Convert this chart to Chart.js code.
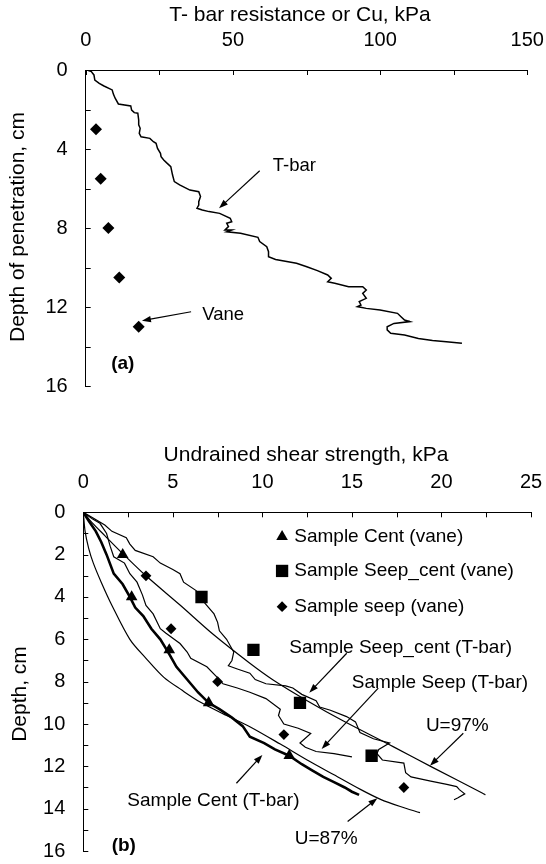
<!DOCTYPE html>
<html>
<head>
<meta charset="utf-8">
<script src="https://cdn.jsdelivr.net/npm/chart.js@4.4.0/dist/chart.umd.min.js"></script>
<style>
  body { margin: 0; background: #fff; }
  #wrap { position: relative; width: 546px; height: 864px; }
  canvas { position: absolute; left: 0; }
</style>
</head>
<body>
<div id="wrap">
  <canvas id="chartA" width="546" height="440" style="top:0"></canvas>
  <canvas id="chartB" width="546" height="424" style="top:440px"></canvas>
</div>
<script>
// --- (a) T-bar profile + vane ---
const tBarKpa = [0.5,1.9,2.8,3.1,4.6,6.2,9.0,9.4,10.0,11.1,15.3,15.6,16.5,17.7,18.0,18.0,18.5,18.2,18.8,21.8,
  23.0,23.9,24.4,25.4,25.6,26.5,27.7,28.9,29.5,30.1,31.9,35.4,38.4,39.0,38.4,38.4,37.8,39.6,41.9,45.5,
  49.1,49.6,47.9,48.5,47.3,49.6,47.9,52.6,58.5,59.1,61.5,62.1,62.1,64.5,71.6,75.1,78.7,82.2,83.4,82.2,
  84.6,89.3,94.1,95.3,94.1,95.3,92.9,93.5,92.3,95.3,100.0,105.9,107.1,108.3,110.1,104.7,102.4,102.4,103.6,108.3,
  113.0,117.8,122.5,127.8];
const tBarDepth = [0,0.08,0.25,0.51,0.68,0.81,1.01,1.22,1.43,1.72,1.82,2.03,2.16,2.19,2.53,2.78,2.95,3.21,3.38,3.46,
  3.63,3.71,3.97,4.22,4.39,4.56,4.73,4.89,5.32,5.65,5.82,6.08,6.16,6.41,6.67,6.84,7.00,7.09,7.17,7.26,
  7.51,7.68,7.76,7.93,8.10,8.10,8.19,8.27,8.47,8.69,8.95,9.20,9.45,9.59,9.79,9.96,10.16,10.38,10.55,10.72,
  10.80,10.97,10.97,11.14,11.31,11.56,11.73,11.90,11.98,12.07,12.15,12.32,12.49,12.66,12.74,12.83,13.0,13.16,13.33,13.42,
  13.59,13.70,13.76,13.84];
const vaneKpa = [3.5, 5.1, 7.7, 11.4, 18.0];
const vaneDepth = [3, 5.5, 8, 10.5, 13];

// --- (b) undrained shear strength, [kPa, cm] ---
const centTbar = [[0,0],[0.3,0.4],[0.7,0.9],[1.0,1.4],[1.3,2.0],[1.7,2.9],[2.2,3.4],[2.6,4.0],[2.9,4.5],[3.35,4.9],
  [3.8,5.5],[4.3,6.0],[4.8,6.7],[5.2,7.3],[5.8,7.9],[6.4,8.5],[7.0,9.0],[7.6,9.3],[8.3,9.7],[8.9,10.1],[9.3,10.6],
  [10.1,10.9],[10.7,11.2],[11.5,11.5],[12.2,11.9],[12.8,12.2],[13.4,12.5],[14.0,12.75],[14.6,13.0],[15.0,13.2],[15.4,13.35]];
const seepTbar = [[0,0],[0.5,0.3],[0.93,0.52],[1.3,1.0],[1.5,1.6],[1.7,2.1],[2.3,2.4],[2.6,2.9],[3.0,3.3],[3.3,3.9],
  [3.5,4.4],[3.9,4.8],[4.3,5.5],[4.6,5.7],[5.4,6.2],[5.8,6.6],[6.0,6.9],[6.9,7.3],[7.6,7.9],[7.8,8.1],[8.6,8.3],
  [9.3,8.5],[10.2,8.8],[11.0,9.3],[10.9,9.6],[11.2,10.0],[12.0,10.2],[12.7,10.45],[12.1,10.9],[12.4,11.1],[13.0,11.3],
  [14.0,11.4],[15.0,11.55]];
const seepCentTbar = [[0,0],[0.5,0.25],[1.2,0.6],[1.6,0.9],[2.4,1.2],[2.6,1.5],[2.9,1.8],[3.9,2.1],[4.3,2.4],[5.0,2.7],
  [5.4,2.9],[5.6,3.3],[6.3,3.7],[6.6,4.1],[7.0,4.5],[7.3,4.8],[7.5,5.2],[7.6,5.6],[8.0,6.0],[8.4,6.6],[8.3,7.0],
  [8.1,7.25],[8.6,7.4],[9.3,7.6],[9.6,7.9],[10.2,8.1],[11.3,8.2],[11.7,8.3],[12.2,8.6],[13.0,8.9],[13.2,9.2],
  [13.8,9.35],[14.7,9.65],[15.2,9.9],[15.45,10.4],[16.2,10.7],[17.1,10.9],[16.5,11.2],[16.4,11.4],[16.7,11.7],
  [17.9,11.85],[18.0,12.3],[18.3,12.5],[19.4,12.7],[20.3,12.85],[20.85,12.96],[21.0,13.1],[21.3,13.3],[20.9,13.5],[20.7,13.58]];
const u97 = [[0,0],[0.5,0.5],[1.2,1.1],[2.2,1.95],[3.5,3.0],[5.4,4.38],[7.3,5.8],[9.3,7.13],[10.6,7.92],[12.5,8.9],
  [14.5,9.85],[17.3,11.07],[19.5,12.05],[22.3,13.27],[22.45,13.35]];
const u87 = [[0,0],[0.1,0.9],[0.3,1.7],[0.56,2.4],[1.0,3.3],[1.6,4.4],[2.6,6.0],[3.5,6.9],[4.5,7.8],[5.5,8.4],
  [6.5,8.95],[8.0,9.6],[9.3,10.13],[11.0,10.95],[12.5,11.7],[14.0,12.4],[15.5,13.1],[16.6,13.56],[17.7,13.9],[18.8,14.19]];
const centVaneKpa = [2.2, 2.7, 4.8, 7.0, 11.5];
const centVaneDepth = [2, 4, 6.5, 9, 11.5];
const seepCentVaneKpa = [6.6, 9.5, 12.1, 16.1];
const seepCentVaneDepth = [4, 6.5, 9, 11.5];
const seepVaneKpa = [3.5, 4.9, 7.5, 11.2, 17.9];
const seepVaneDepth = [3, 5.5, 8, 10.5, 13];

const FONT = "'Liberation Sans', Arial, sans-serif";
Chart.defaults.font.family = FONT;
Chart.defaults.color = '#000';

function zip(xs, ys) { return xs.map((x, i) => ({x: x, y: ys[i]})); }
function pairs(arr) { return arr.map(p => ({x: p[0], y: p[1]})); }

function lineSet(data, width, tension) {
  return { data: data, showLine: true, borderColor: '#000', borderWidth: width,
    pointRadius: 0, tension: tension || 0, fill: false };
}
function pointSet(data, style, r) {
  return { data: data, showLine: false, pointStyle: style, pointRadius: r,
    backgroundColor: '#000', borderColor: '#000', borderWidth: 0 };
}

function drawShape(ctx, style, x, y, r) {
  ctx.beginPath();
  if (style === 'triangle') {
    ctx.moveTo(x, y - r);
    ctx.lineTo(x + r * 0.866, y + r * 0.5);
    ctx.lineTo(x - r * 0.866, y + r * 0.5);
  } else if (style === 'rect') {
    const s = r * Math.SQRT1_2;
    ctx.rect(x - s, y - s, 2 * s, 2 * s);
  } else {
    ctx.moveTo(x - r, y); ctx.lineTo(x, y - r); ctx.lineTo(x + r, y); ctx.lineTo(x, y + r);
  }
  ctx.closePath();
  ctx.fill();
}

// inward tick marks on the top and left axes
const innerTicks = {
  id: 'innerTicks',
  afterDraw(chart) {
    const ctx = chart.ctx, a = chart.chartArea, sx = chart.scales.x, sy = chart.scales.y;
    ctx.save();
    ctx.strokeStyle = '#000';
    ctx.lineWidth = 1;
    ctx.beginPath();
    sx.ticks.forEach(t => {
      const x = Math.round(sx.getPixelForValue(t.value)) + 0.5;
      ctx.moveTo(x, a.top); ctx.lineTo(x, a.top + 5);
    });
    sy.ticks.forEach(t => {
      const y = Math.round(sy.getPixelForValue(t.value)) + 0.5;
      ctx.moveTo(a.left, y); ctx.lineTo(a.left + 5, y);
    });
    ctx.stroke();
    ctx.restore();
  }
};

// texts, arrows and legend rows given in data units, drawn after the chart
const notesPlugin = {
  id: 'notes',
  afterDraw(chart, args, opts) {
    const ctx = chart.ctx, sx = chart.scales.x, sy = chart.scales.y;
    const px = v => sx.getPixelForValue(v), py = v => sy.getPixelForValue(v);
    ctx.save();
    ctx.fillStyle = '#000';
    ctx.strokeStyle = '#000';
    ctx.textBaseline = 'middle';
    (opts.texts || []).forEach(t => {
      ctx.font = (t.bold ? 'bold ' : '') + t.size + 'px ' + FONT;
      ctx.textAlign = t.align || 'left';
      ctx.fillText(t.text, px(t.x), py(t.y));
    });
    (opts.arrows || []).forEach(a => {
      const x1 = px(a[0]), y1 = py(a[1]), x2 = px(a[2]), y2 = py(a[3]);
      const ang = Math.atan2(y2 - y1, x2 - x1), L = 9, W = 3.2;
      ctx.lineWidth = 1.2;
      ctx.beginPath();
      ctx.moveTo(x1, y1);
      ctx.lineTo(x2 - Math.cos(ang) * L * 0.8, y2 - Math.sin(ang) * L * 0.8);
      ctx.stroke();
      ctx.beginPath();
      ctx.moveTo(x2, y2);
      ctx.lineTo(x2 - Math.cos(ang) * L - Math.sin(ang) * W, y2 - Math.sin(ang) * L + Math.cos(ang) * W);
      ctx.lineTo(x2 - Math.cos(ang) * L + Math.sin(ang) * W, y2 - Math.sin(ang) * L - Math.cos(ang) * W);
      ctx.closePath();
      ctx.fill();
    });
    (opts.legend || []).forEach(l => {
      drawShape(ctx, l.style, px(l.mx), py(l.y), l.r);
      ctx.font = l.size + 'px ' + FONT;
      ctx.textAlign = 'left';
      ctx.fillText(l.text, px(l.tx), py(l.y));
    });
    // axis titles placed by pixel
    (opts.titles || []).forEach(t => {
      ctx.save();
      ctx.font = t.size + 'px ' + FONT;
      ctx.textAlign = 'center';
      ctx.translate(t.px, t.py);
      if (t.vertical) ctx.rotate(-Math.PI / 2);
      ctx.fillText(t.text, 0, 0);
      ctx.restore();
    });
    ctx.restore();
  }
};

function axes(o) {
  return {
    x: {
      type: 'linear', position: 'top', min: 0, max: o.xMax,
      ticks: { stepSize: o.xStep, padding: 18, font: { size: 20 }, maxRotation: 0, autoSkip: false,
        callback: v => (Math.abs(v % o.xLabel) < 1e-6 ? v : '') },
      grid: { drawOnChartArea: false, drawTicks: false },
      border: { display: true, color: '#000', width: 1 },
      afterFit: s => { s.height = o.top; s.paddingLeft = 0; s.paddingRight = 0; }
    },
    y: {
      type: 'linear', reverse: true, min: 0, max: 16,
      ticks: { stepSize: o.yStep, padding: 18, font: { size: 20 }, autoSkip: false,
        callback: v => (v % o.yLabel === 0 ? v : '') },
      grid: { drawOnChartArea: false, drawTicks: false },
      border: { display: true, color: '#000', width: 1 },
      afterFit: s => { s.width = o.left; s.paddingTop = 0; s.paddingBottom = 0; }
    }
  };
}

const common = {
  responsive: false, animation: false, devicePixelRatio: 1, events: [],
  plugins: { legend: { display: false }, tooltip: { enabled: false } }
};

new Chart(document.getElementById('chartA'), {
  type: 'scatter',
  data: { datasets: [
    lineSet(zip(tBarKpa, tBarDepth), 1.5),
    pointSet(zip(vaneKpa, vaneDepth), 'rectRot', 6)
  ] },
  options: Object.assign({}, common, {
    layout: { padding: { left: 0, top: 0, right: 18.7, bottom: 54 } },
    scales: axes({ xMax: 150, xStep: 25, xLabel: 50, yStep: 2, yLabel: 4, top: 70, left: 85.7 }),
    plugins: Object.assign({}, common.plugins, { notes: {
      texts: [
        { text: 'T-bar', x: 70.9, y: 4.86, size: 18.5, align: 'center' },
        { text: 'Vane', x: 46.7, y: 12.4, size: 18.5, align: 'center' },
        { text: '(a)', x: 12.6, y: 14.85, size: 19, align: 'center', bold: true }
      ],
      arrows: [[59.1, 5.10, 45.3, 7.0], [35.8, 12.24, 19.1, 12.69]],
      titles: [
        { text: 'T- bar resistance or Cu, kPa', px: 300, py: 15, size: 21 },
        { text: 'Depth of penetration, cm', px: 18, py: 227, size: 21, vertical: true }
      ]
    } })
  }),
  plugins: [innerTicks, notesPlugin]
});

new Chart(document.getElementById('chartB'), {
  type: 'scatter',
  data: { datasets: [
    lineSet(pairs(u97), 1.2, 0.3),
    lineSet(pairs(u87), 1.2, 0.3),
    lineSet(pairs(seepCentTbar), 1.2),
    lineSet(pairs(seepTbar), 1.2),
    lineSet(pairs(centTbar), 2.6),
    pointSet(zip(centVaneKpa, centVaneDepth), 'triangle', 6.7),
    pointSet(zip(seepCentVaneKpa, seepCentVaneDepth), 'rect', 8.7),
    pointSet(zip(seepVaneKpa, seepVaneDepth), 'rectRot', 5.4)
  ] },
  options: Object.assign({}, common, {
    layout: { padding: { left: 0, top: 0, right: 15, bottom: 13 } },
    scales: axes({ xMax: 25, xStep: 2.5, xLabel: 5, yStep: 1, yLabel: 2, top: 72.3, left: 83.3 }),
    plugins: Object.assign({}, common.plugins, { notes: {
      texts: [
        { text: 'Sample Seep_cent (T-bar)', x: 11.5, y: 6.42, size: 19 },
        { text: 'Sample Seep (T-bar)', x: 14.99, y: 8.05, size: 19 },
        { text: 'U=97%', x: 19.13, y: 10.09, size: 19 },
        { text: 'Sample Cent (T-bar)', x: 2.46, y: 13.62, size: 19 },
        { text: 'U=87%', x: 11.81, y: 15.4, size: 19 },
        { text: '(b)', x: 2.26, y: 15.75, size: 19, align: 'center', bold: true }
      ],
      arrows: [
        [14.71, 6.66, 12.62, 8.52],
        [16.47, 8.31, 13.31, 11.18],
        [21.22, 10.44, 19.36, 11.97],
        [8.55, 12.8, 10.0, 11.46],
        [14.76, 14.61, 16.42, 13.51]
      ],
      legend: [
        { style: 'triangle', r: 6.7, mx: 11.1, tx: 11.78, y: 1.15, text: 'Sample Cent (vane)', size: 19 },
        { style: 'rect', r: 8.7, mx: 11.1, tx: 11.78, y: 2.77, text: 'Sample Seep_cent (vane)', size: 19 },
        { style: 'rectRot', r: 5.4, mx: 11.1, tx: 11.78, y: 4.46, text: 'Sample seep (vane)', size: 19 }
      ],
      titles: [
        { text: 'Undrained shear strength, kPa', px: 306, py: 15, size: 21 },
        { text: 'Depth, cm', px: 20.7, py: 254, size: 21, vertical: true }
      ]
    } })
  }),
  plugins: [innerTicks, notesPlugin]
});
</script>
</body>
</html>
